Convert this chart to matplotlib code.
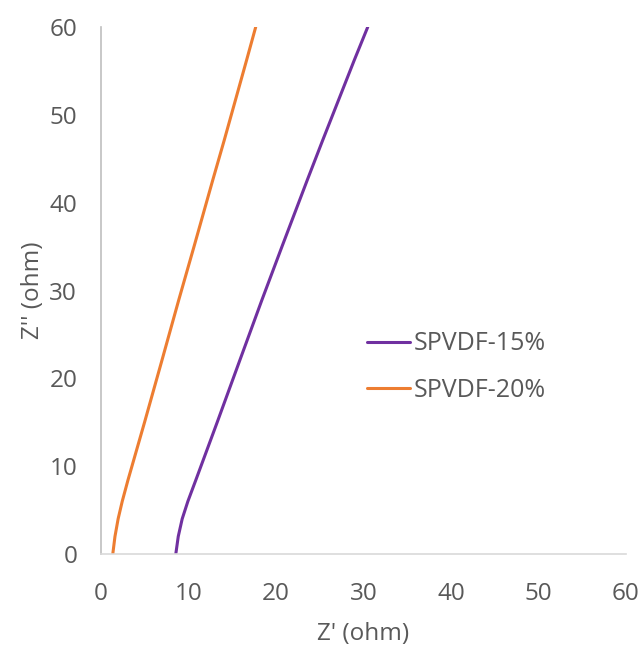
import matplotlib.pyplot as plt

plt.rcParams['font.family'] = ['Open Sans', 'DejaVu Sans']

# Nyquist data: Z' (real) vs Z'' (imaginary), ohm
z_imag = [0, 2, 4, 6, 8.4, 15, 22.1, 28.9, 35, 42.6, 47.1, 56.2, 60]
z_real_15 = [8.57, 8.85, 9.3, 9.95, 10.85, 13.3, 15.9, 18.4, 20.7, 23.6, 25.35, 28.95, 30.5]
z_real_20 = [1.37, 1.62, 1.98, 2.45, 3.1, 5.0, 7.0, 8.9, 10.65, 12.8, 14.1, 16.65, 17.7]

labels = ['SPVDF-15%', 'SPVDF-20%']
colors = ['#7030A0', '#ED7D31']
text_color = '#595959'

fig = plt.figure(figsize=(6.42, 6.46), dpi=100)
ax = fig.add_axes([0.157, 0.1424, 0.818, 0.8158])

ax.plot(z_real_15, z_imag, color=colors[0], lw=2.2, label=labels[0],
        solid_capstyle='round', solid_joinstyle='round')
ax.plot(z_real_20, z_imag, color=colors[1], lw=2.2, label=labels[1],
        solid_capstyle='round', solid_joinstyle='round')

ax.set_xlim(0, 60)
ax.set_ylim(0, 60)
ax.set_xticks(range(0, 61, 10))
ax.set_yticks(range(0, 61, 10))
ax.tick_params(length=0, labelsize=17.5, labelcolor=text_color)
ax.tick_params(axis='x', pad=20)
ax.tick_params(axis='y', pad=17)

for side in ['top', 'right']:
    ax.spines[side].set_visible(False)
ax.spines['left'].set_color('#bfbfbf')
ax.spines['bottom'].set_color('#d9d9d9')
ax.spines['left'].set_linewidth(1.2)
ax.spines['bottom'].set_linewidth(1.2)

ax.set_xlabel("Z' (ohm)", fontsize=17.5, color=text_color, labelpad=12)
ax.set_ylabel("Z'' (ohm)", fontsize=17.5, color=text_color, labelpad=3)

ax.legend(loc='center left', bbox_to_anchor=(0.465, 0.355), frameon=False,
          fontsize=18, labelcolor=text_color, handlelength=1.7,
          handletextpad=0.15, labelspacing=0.85)

fig.savefig('out.png', dpi=100)
